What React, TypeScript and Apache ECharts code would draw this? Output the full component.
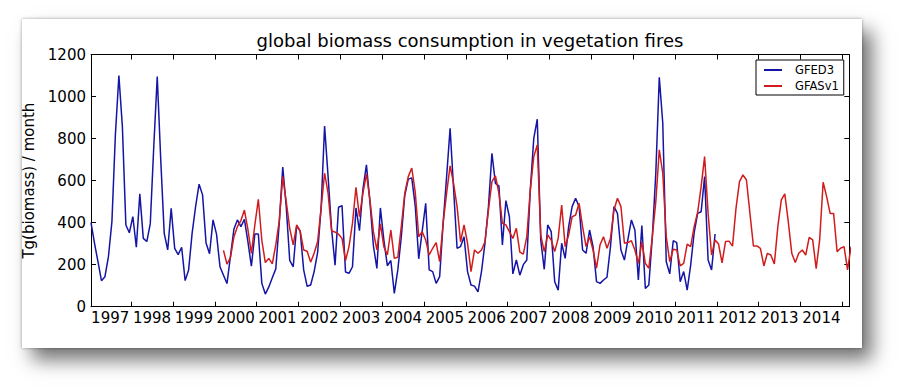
import React, { useEffect, useRef } from "react";
import * as echarts from "echarts";

// Monthly values, Tg(biomass)/month. Month index 0 = Jan 1997.
const GFED3_START = 0; // Jan 1997
const gfed3 = [
  400, 302, 214, 124, 143, 238, 405, 820, 1100, 857, 389, 352,
  429, 283, 537, 325, 310, 394, 760, 1095, 700, 349, 270, 468,
  278, 248, 283, 124, 175, 349, 476, 583, 532, 303, 252, 413,
  345, 190, 150, 110, 240, 370, 413, 381, 416, 310, 193, 346,
  346, 111, 60, 94, 138, 180, 400, 664, 476, 220, 190, 385,
  360, 175, 97, 103, 167, 258, 470, 860, 620, 370, 198, 473,
  481, 165, 159, 190, 470, 362, 560, 675, 500, 290, 182, 470,
  317, 195, 220, 63, 175, 333, 530, 607, 613, 480, 228, 360,
  492, 175, 167, 111, 143, 397, 619, 849, 560, 278, 286, 333,
  167, 103, 98, 71, 167, 302, 476, 730, 587, 575, 294, 505,
  428, 156, 222, 150, 200, 222, 555, 801, 892, 317, 178, 389,
  357, 119, 79, 302, 230, 381, 476, 516, 476, 270, 254, 365,
  286, 119, 111, 127, 140, 286, 476, 444, 270, 222, 320, 413,
  365, 127, 386, 87, 103, 333, 635, 1092, 873, 214, 156, 314,
  305, 119, 167, 79, 198, 352, 444, 452, 619, 222, 175, 346,
];

const GFAS_START = 38; // Mar 2000
const gfasv1 = [
  268, 203, 234, 333, 381, 410, 460, 368, 254, 390, 511, 315,
  210, 230, 204, 294, 409, 619, 500, 373, 294, 389, 360, 270,
  264, 212, 254, 310, 468, 635, 540, 360, 355, 345, 325, 219,
  286, 397, 568, 428, 540, 632, 508, 357, 270, 394, 286, 246,
  365, 230, 235, 381, 540, 619, 660, 545, 333, 357, 317, 246,
  278, 305, 214, 397, 540, 670, 587, 476, 309, 389, 302, 167,
  270, 254, 270, 309, 460, 595, 622, 540, 397, 389, 357, 325,
  373, 260, 250, 333, 555, 714, 770, 341, 262, 341, 317, 262,
  325, 484, 286, 341, 428, 436, 492, 381, 286, 333, 270, 183,
  294, 333, 278, 325, 460, 516, 476, 302, 305, 314, 270, 206,
  309, 206, 183, 333, 500, 746, 635, 333, 214, 273, 270, 194,
  206, 298, 286, 381, 448, 571, 714, 444, 246, 317, 298, 208,
  310, 312, 288, 468, 595, 627, 603, 444, 289, 289, 278, 194,
  254, 246, 203, 381, 508, 537, 405, 254, 210, 254, 270, 246,
  330, 318, 181, 318, 592, 524, 444, 444, 262, 278, 286, 175,
  286,
];

const yearLabels = [
  "1997", "1998", "1999", "2000", "2001", "2002", "2003", "2004", "2005",
  "2006", "2007", "2008", "2009", "2010", "2011", "2012", "2013", "2014",
];
const yTicks = [0, 200, 400, 600, 800, 1000, 1200];

const FONT = "DejaVu Sans";
const BLUE = "#1414a6";
const RED = "#d01c1c";

export default function App() {
  const ref = useRef<HTMLDivElement>(null);

  useEffect(() => {
    if (!ref.current) return;
    const chart = echarts.init(ref.current, undefined, { renderer: "svg" });

    const toPoints = (arr: number[], start: number) =>
      arr.map((v, i) => [start + i + 0.5, v]);

    // tick at each Jan 1 (month 12*k), label centred in the year
    const tickVals = yearLabels.map((_, i) => 12 * (i + 1)).filter((v) => v <= 217);
    const labelVals = yearLabels.map((_, i) => 12 * i + 6);
    const labelMap: Record<string, string> = {};
    labelVals.forEach((v, i) => (labelMap[String(v)] = yearLabels[i]));

    const xCommon = {
      type: "value" as const,
      min: 0.5,
      max: 218,
      splitLine: { show: false },
      axisLine: { show: true, onZero: false, lineStyle: { color: "#000", width: 1 } },
      axisTick: {
        show: true,
        inside: true,
        length: 5,
        customValues: tickVals,
        lineStyle: { color: "#000", width: 1 },
      },
    };

    const yCommon = {
      type: "value" as const,
      min: yTicks[0],
      max: yTicks[yTicks.length - 1],
      interval: 200,
      splitLine: { show: false },
      axisLine: { show: true, onZero: false, lineStyle: { color: "#000", width: 1 } },
      axisTick: { show: true, inside: true, length: 5, lineStyle: { color: "#000", width: 1 } },
    };

    chart.setOption({
      animation: false,
      title: {
        text: "global biomass consumption in vegetation fires",
        left: 470,
        top: 31,
        textAlign: "center",
        padding: 0,
        textStyle: { fontFamily: FONT, fontSize: 18, fontWeight: "normal", color: "#000" },
      },
      grid: { left: 91, right: 54.7, top: 54.5, bottom: 83.3, containLabel: false },
      legend: {
        left: 756,
        top: 60,
        orient: "vertical",
        padding: [4, 5, 3, 8],
        itemGap: 4,
        itemWidth: 18,
        itemHeight: 2,
        icon: "rect",
        borderColor: "#000",
        borderWidth: 1,
        borderRadius: 0,
        backgroundColor: "#fff",
        textStyle: { fontFamily: FONT, fontSize: 11.5, color: "#000", padding: [0, 0, 0, 8] },
        data: ["GFED3", "GFASv1"],
      },
      xAxis: [
        {
          ...xCommon,
          position: "bottom",
          axisLabel: {
            show: true,
            customValues: labelVals,
            margin: 4,
            fontFamily: FONT,
            fontSize: 15,
            color: "#000",
            formatter: (v: number) => labelMap[String(v)] ?? "",
          },
        },
        { ...xCommon, position: "top", axisLabel: { show: false } },
      ],
      yAxis: [
        {
          ...yCommon,
          position: "left",
          name: "Tg(biomass) / month",
          nameLocation: "middle",
          nameGap: 41,
          nameRotate: 90,
          nameTextStyle: { fontFamily: FONT, fontSize: 15, color: "#000" },
          axisLabel: {
            show: true,
            margin: 5,
            fontFamily: FONT,
            fontSize: 15,
            color: "#000",
            formatter: (v: number) => String(v),
          },
        },
        { ...yCommon, position: "right", axisLabel: { show: false } },
      ],
      series: [
        {
          name: "GFED3",
          type: "line",
          data: toPoints(gfed3, GFED3_START),
          showSymbol: false,
          symbol: "none",
          clip: true,
          color: BLUE,
          lineStyle: { color: BLUE, width: 1.5 },
        },
        {
          name: "GFASv1",
          type: "line",
          data: toPoints(gfasv1, GFAS_START),
          showSymbol: false,
          symbol: "none",
          clip: true,
          color: RED,
          lineStyle: { color: RED, width: 1.5 },
        },
      ],
    });

    return () => chart.dispose();
  }, []);

  return (
    <div style={{ position: "fixed", left: 0, top: 0, width: 904, height: 390, background: "#fff", overflow: "hidden" }}>
      <div
        style={{
          position: "absolute",
          left: 22,
          top: 19,
          width: 840,
          height: 329,
          background: "#fff",
          boxShadow: "10px 12px 18px rgba(0,0,0,0.55), 0 0 3px rgba(0,0,0,0.35)",
        }}
      />
      <div ref={ref} style={{ position: "absolute", left: 0, top: 0, width: 904, height: 390 }} />
    </div>
  );
}
